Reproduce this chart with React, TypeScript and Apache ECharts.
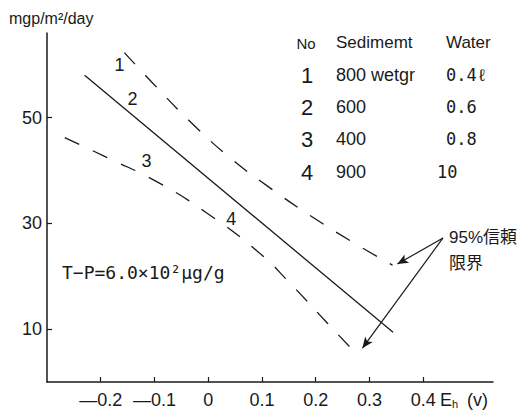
import React, { useEffect, useRef } from "react";
import * as echarts from "echarts";

// Regression line (solid) and 95% confidence limits (dashed)
const regression: [number, number][] = [[-0.23, 58.0], [0.344, 9.4]];
const upperLimit: [number, number][] = [
  [-0.156, 62.3], [-0.104, 56.6], [-0.03, 48.9], [0.043, 42.2],
  [0.111, 37.0], [0.191, 31.4], [0.278, 25.9], [0.343, 22.1],
];
const lowerLimit: [number, number][] = [
  [-0.267, 46.2], [-0.183, 42.2], [-0.096, 37.9], [-0.006, 32.2],
  [0.093, 24.6], [0.154, 18.5], [0.222, 11.1], [0.28, 4.9],
];
// Curve number labels
const curveLabels = ["1", "2", "3", "4"];
const curveLabelPos: [number, number][] = [[-0.165, 60.0], [-0.141, 53.6], [-0.115, 41.8], [0.043, 30.9]];

const xTicks = [-0.2, -0.1, 0, 0.1, 0.2, 0.3, 0.4];
const yTicks = [10, 30, 50];

// Table
const tableNo = ["1", "2", "3", "4"];
const tableSediment = ["800 wetgr", "600", "400", "900"];
const tableWater = ["0.4ℓ", "0.6", "0.8", "10"];

// arrows for "95%信頼限界"
const arrowStart: [number, number] = [0.437, 27.25];
const arrowEnds: [number, number][] = [[0.352, 22.3], [0.287, 6.4]];

const INK = "#1a1a1a";
const SANS = "'Liberation Sans', 'Noto Sans CJK JP', sans-serif";
const MONO = "'DejaVu Sans Mono', 'Liberation Mono', monospace";

export default function App() {
  const ref = useRef<HTMLDivElement>(null);
  useEffect(() => {
    document.body.style.margin = "0";
    if (!ref.current) return;
    const chart = echarts.init(ref.current, null, { renderer: "svg" });
    const rowY = [75, 107, 139, 172];
    const waterX = [446, 446, 446, 437];
    const graphic: any[] = [
      { type: "text", x: 9, y: 18, style: { text: "mgp/m²/day", font: `16px ${SANS}`, fill: INK, verticalAlign: "middle" } },
      { type: "text", x: 62, y: 272, style: { text: "T−P=6.0×10²μg/g", font: `18px ${MONO}`, fill: INK, verticalAlign: "middle" } },
      { type: "text", x: 440, y: 400, style: { text: "E", font: `18px ${SANS}`, fill: INK, verticalAlign: "middle" } },
      { type: "text", x: 452, y: 404, style: { text: "h", font: `11px ${SANS}`, fill: INK, verticalAlign: "middle" } },
      { type: "text", x: 467, y: 400, style: { text: "(v)", font: `18px ${SANS}`, fill: INK, verticalAlign: "middle" } },
      { type: "text", x: 449, y: 237, style: { text: "95%信頼", font: `17px ${SANS}`, fill: INK, verticalAlign: "middle" } },
      { type: "text", x: 449, y: 263, style: { text: "限界", font: `17px ${SANS}`, fill: INK, verticalAlign: "middle" } },
      { type: "text", x: 306, y: 43, style: { text: "No", font: `15px ${SANS}`, fill: INK, align: "center", verticalAlign: "middle" } },
      { type: "text", x: 336, y: 42, style: { text: "Sedimemt", font: `17px ${SANS}`, fill: INK, verticalAlign: "middle" } },
      { type: "text", x: 446, y: 42, style: { text: "Water", font: `17px ${SANS}`, fill: INK, verticalAlign: "middle" } },
    ];
    tableNo.forEach((n, i) => {
      graphic.push({ type: "text", x: 307, y: rowY[i], style: { text: n, font: `22px ${SANS}`, fill: INK, align: "center", verticalAlign: "middle" } });
      graphic.push({ type: "text", x: 336, y: rowY[i], style: { text: tableSediment[i], font: `18px ${SANS}`, fill: INK, verticalAlign: "middle" } });
      graphic.push({ type: "text", x: waterX[i], y: rowY[i], style: { text: tableWater[i], font: `17px ${MONO}`, fill: INK, verticalAlign: "middle" } });
    });

    chart.setOption({
      animation: false,
      backgroundColor: "#fff",
      grid: { left: 47, right: 34, top: 33, bottom: 28 },
      xAxis: {
        type: "value",
        min: -0.3,
        max: 0.53,
        splitLine: { show: false },
        axisLine: { onZero: false, lineStyle: { color: INK, width: 1.5 } },
        axisTick: { inside: true, length: 5, customValues: xTicks, lineStyle: { color: INK, width: 1.2 } },
        axisLabel: {
          customValues: xTicks,
          margin: 9,
          color: INK,
          fontSize: 18,
          fontFamily: SANS,
          formatter: (v: number) => (Math.abs(v) < 1e-9 ? "0" : v < 0 ? "—" + Math.abs(v).toFixed(1) : v.toFixed(1)),
        },
      },
      yAxis: {
        type: "value",
        min: 0,
        max: 66,
        splitLine: { show: false },
        axisLine: { onZero: false, lineStyle: { color: INK, width: 1.5 } },
        axisTick: { inside: true, length: 5, customValues: yTicks, lineStyle: { color: INK, width: 1.2 } },
        axisLabel: { customValues: yTicks, margin: 5, color: INK, fontSize: 18, fontFamily: SANS },
      },
      series: [
        {
          type: "line",
          data: regression,
          symbol: "none",
          lineStyle: { color: INK, width: 1.3 },
          markLine: {
            silent: true,
            animation: false,
            label: { show: false },
            lineStyle: { color: INK, width: 1.2, type: "solid" },
            data: arrowEnds.map((e) => [
              { coord: arrowStart, symbol: "none" },
              { coord: e, symbol: "arrow", symbolSize: [7, 11] },
            ]),
          },
        },
        {
          type: "line",
          data: upperLimit,
          symbol: "none",
          smooth: true,
          lineStyle: { color: INK, width: 1.3, type: [16, 15] },
        },
        {
          type: "line",
          data: lowerLimit,
          symbol: "none",
          smooth: true,
          lineStyle: { color: INK, width: 1.3, type: [16, 15] },
        },
        {
          type: "scatter",
          data: curveLabelPos,
          symbolSize: 1,
          itemStyle: { color: "transparent", opacity: 1 },
          label: {
            show: true,
            position: "inside",
            color: INK,
            opacity: 1,
            textBorderWidth: 0,
            fontSize: 18,
            fontFamily: SANS,
            formatter: (p: any) => curveLabels[p.dataIndex],
          },
        },
      ],
      graphic,
    });
    return () => chart.dispose();
  }, []);
  return <div ref={ref} style={{ width: 527, height: 410 }} />;
}
